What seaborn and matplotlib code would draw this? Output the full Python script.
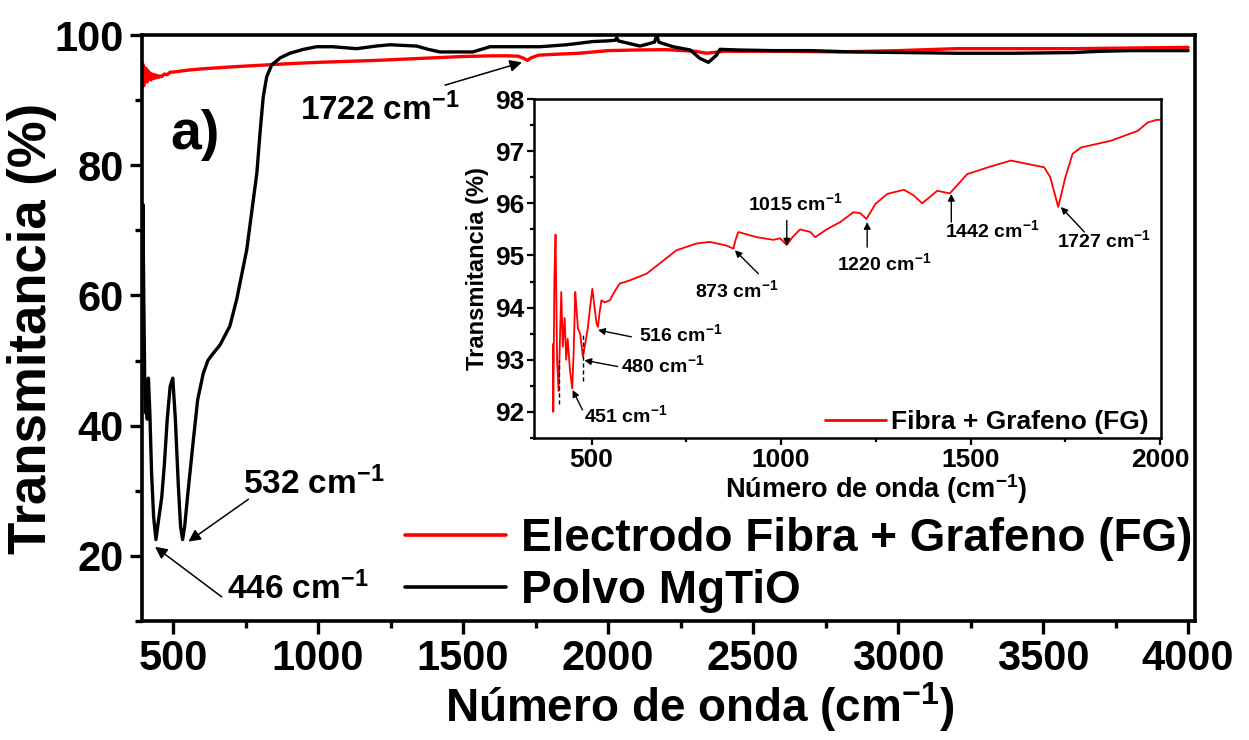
import numpy as np
import pandas as pd
import matplotlib
matplotlib.use("Agg")
import matplotlib.pyplot as plt
import seaborn as sns
from matplotlib.ticker import MultipleLocator

# ---------------- data ----------------
# Main panel: Electrodo Fibra + Grafeno (FG) (red)
red_x = [393, 396, 399, 402, 405, 408, 411, 414, 417, 420, 424, 428, 432, 436, 440,
         445, 450, 455, 460, 470, 480, 490, 500, 550, 600, 700, 800, 900, 1000, 1100,
         1200, 1300, 1400, 1500, 1600, 1650, 1690, 1710, 1722, 1735, 1760, 1800, 1900,
         2000, 2100, 2200, 2300, 2340, 2400, 2500, 2600, 2800, 3000, 3200, 3400, 3600,
         3800, 4000]
red_y = [92.5, 95.5, 92.2, 95.0, 93.0, 94.8, 92.8, 94.5, 93.2, 94.2, 93.1, 94.0, 93.3,
         93.9, 93.4, 93.8, 93.5, 93.7, 93.6, 94.0, 93.9, 94.3, 94.3, 94.6, 94.8, 95.1,
         95.35, 95.6, 95.8, 95.95, 96.1, 96.3, 96.5, 96.7, 96.8, 96.8, 96.75, 96.4, 96.1,
         96.5, 96.9, 97.0, 97.2, 97.6, 97.7, 97.75, 97.5, 97.2, 97.5, 97.5, 97.5, 97.4,
         97.6, 97.9, 97.9, 97.9, 98.0, 98.1]

# Main panel: Polvo MgTiO (black)
black_x = [393, 396, 399, 402, 405, 408, 411, 415, 420, 426, 433, 441, 450, 461, 470,
           480, 490, 499, 508, 518, 526, 533, 540, 552, 570, 585, 604, 620, 633, 662,
           696, 720, 754, 789, 800, 811, 823, 840, 870, 903, 950, 995, 1050, 1133, 1200,
           1248, 1340, 1380, 1420, 1534, 1593, 1765, 1857, 1949, 2000, 2025, 2030, 2035,
           2110, 2160, 2168, 2175, 2224, 2283, 2317, 2346, 2374, 2386, 2450, 2569, 2700,
           2845, 3030, 3200, 3400, 3600, 3700, 3800, 4000]
black_y = [62, 74, 60, 48, 42, 46, 41, 47.3, 42, 32.7, 26, 22.5, 25.5, 29, 34,
           41, 46, 47.3, 41, 31, 24.5, 22.5, 24.5, 30, 37.8, 44, 48, 50, 50.8, 52.4,
           55.3, 59.5, 67, 78.8, 85, 90.5, 93.6, 95.4, 96.5, 97.2, 97.8, 98.2, 98.2, 97.9, 98.3,
           98.5, 98.3, 97.8, 97.4, 97.4, 98.2, 98.2, 98.5, 99.0, 99.1, 99.2, 99.6, 99.1,
           98.3, 98.9, 100.0, 98.9, 98.2, 97.7, 96.4, 95.8, 96.9, 97.8, 97.7, 97.6, 97.6,
           97.4, 97.3, 97.2, 97.2, 97.3, 97.5, 97.6, 97.6]

# Inset: Fibra + Grafeno (FG), 400-2000 cm-1
ins_x = [398, 399, 402, 405, 409, 413, 417, 420, 424, 429, 433, 437, 443, 449, 453,
         457, 460, 464, 470, 477, 483, 490, 496, 502, 508, 513, 517, 521, 526, 535,
         548, 560, 574, 600, 645, 689, 724, 777, 812, 856, 874, 880, 887, 936, 980,
         997, 1015, 1030, 1050, 1077, 1090, 1120, 1156, 1191, 1209, 1225, 1249, 1280,
         1324, 1350, 1372, 1412, 1445, 1491, 1550, 1606, 1694, 1710, 1731, 1750, 1769,
         1791, 1870, 1941, 1967, 1990, 2002]
ins_y = [93.3, 92.0, 94.6, 95.4, 93.0, 92.4, 93.5, 94.3, 93.25, 93.8, 93.0, 93.4, 92.8,
         92.45, 93.2, 94.3, 94.0, 93.6, 93.5, 93.06, 93.3, 93.6, 94.0, 94.36, 94.0,
         93.7, 93.63, 93.9, 94.14, 94.1, 94.14, 94.3, 94.46, 94.52, 94.65, 94.9, 95.1,
         95.23, 95.26, 95.19, 95.13, 95.3, 95.45, 95.35, 95.3, 95.33, 95.2, 95.35, 95.5,
         95.45, 95.35, 95.5, 95.64, 95.83, 95.81, 95.7, 95.99, 96.18, 96.26, 96.15, 96.0,
         96.24, 96.19, 96.56, 96.7, 96.82, 96.69, 96.5, 95.93, 96.5, 96.95, 97.07, 97.2,
         97.39, 97.55, 97.6, 97.6]

main_labels = ["Electrodo Fibra + Grafeno (FG)", "Polvo MgTiO"]
inset_label = "Fibra + Grafeno (FG)"

main_xticks = [500, 1000, 1500, 2000, 2500, 3000, 3500, 4000]
main_yticks = [20, 40, 60, 80, 100]
inset_xticks = [500, 1000, 1500, 2000]
inset_yticks = [92, 93, 94, 95, 96, 97, 98]

# main annotations: (text, text_x, text_y, tail_x, tail_y, head_x, head_y)
main_ann = [
    ("1722 cm$^{-1}$", 1214, 88.5, 1438, 92.3, 1703, 95.8),
    ("532 cm$^{-1}$", 985, 31.0, 760, 28.7, 553, 22.2),
    ("446 cm$^{-1}$", 930, 15.0, 668, 13.7, 438, 21.4),
]
inset_ann = [
    ("451 cm$^{-1}$", 590, 91.94, 476, 92.04, 450, 92.42),
    ("480 cm$^{-1}$", 688, 92.9, 569, 92.87, 481, 92.99),
    ("516 cm$^{-1}$", 735, 93.49, 605, 93.44, 517, 93.57),
    ("873 cm$^{-1}$", 884, 94.33, 940, 94.65, 878, 95.1),
    ("1015 cm$^{-1}$", 1037, 96.0, 1015, 95.67, 1015, 95.19),
    ("1220 cm$^{-1}$", 1272, 94.85, 1227, 95.16, 1227, 95.64),
    ("1442 cm$^{-1}$", 1558, 95.48, 1449, 95.64, 1449, 96.18),
    ("1727 cm$^{-1}$", 1852, 95.29, 1800, 95.45, 1738, 95.93),
]
dash_x = [413, 478]
dash_lo = [92.15, 92.6]
dash_hi = [93.0, 93.5]

# ---------------- style ----------------
sns.set_theme(style="ticks")
plt.rcParams["font.family"] = ["Liberation Sans", "DejaVu Sans"]
plt.rcParams["font.weight"] = "bold"
plt.rcParams["axes.labelweight"] = "bold"
plt.rcParams["text.color"] = "black"
plt.rcParams["axes.labelcolor"] = "black"
plt.rcParams["xtick.color"] = "black"
plt.rcParams["ytick.color"] = "black"
plt.rcParams["legend.labelcolor"] = "black"
plt.rcParams["mathtext.fontset"] = "custom"
plt.rcParams["mathtext.rm"] = "Liberation Sans:bold"
plt.rcParams["mathtext.bf"] = "Liberation Sans:bold"
plt.rcParams["mathtext.it"] = "Liberation Sans:bold"
plt.rcParams["mathtext.sf"] = "Liberation Sans:bold"
plt.rcParams["mathtext.default"] = "bf"

fig = plt.figure(figsize=(12.49, 7.40), dpi=100)
ax = fig.add_axes([0.1137, 0.1608, 0.8431, 0.7919])

df_red = pd.DataFrame({"x": red_x, "y": red_y})
df_black = pd.DataFrame({"x": black_x, "y": black_y})
sns.lineplot(data=df_black, x="x", y="y", ax=ax, color="black", lw=2.4,
             sort=False, estimator=None, label=main_labels[1], zorder=3)
sns.lineplot(data=df_red, x="x", y="y", ax=ax, color="#ff0000", lw=2.4,
             sort=False, estimator=None, label=main_labels[0], zorder=2)

ax.set_xlim(393, 4024)
ax.set_ylim(10, 100)
ax.set_xticks(main_xticks)
ax.set_yticks(main_yticks)
ax.xaxis.set_minor_locator(MultipleLocator(250))
ax.yaxis.set_minor_locator(MultipleLocator(10))
ax.tick_params(axis="both", which="major", direction="out", length=9, width=2.4,
               labelsize=30, colors="black", pad=4)
ax.tick_params(axis="both", which="minor", direction="out", length=5, width=2.4)
for s in ax.spines.values():
    s.set_linewidth(2.6)
    s.set_color("black")
    s.set_visible(True)
ax.set_xlabel("Número de onda (cm$^{-1}$)", fontsize=33, labelpad=1)
ax.xaxis.label.set_x(0.53)
ax.set_ylabel("Transmitancia (%)", fontsize=38, labelpad=-2)

h, l = ax.get_legend_handles_labels()
order = [l.index(main_labels[0]), l.index(main_labels[1])]
leg = ax.legend([h[i] for i in order], [l[i] for i in order], loc="center left",
                bbox_to_anchor=(0.2498, 0.096), frameon=False, fontsize=33,
                handlelength=2.2, handletextpad=0.33, labelspacing=0.17,
                borderpad=0, borderaxespad=0)
for ln in leg.get_lines():
    ln.set_linewidth(2.6)

ax.text(576, 84.6, "a)", fontsize=40, fontweight="bold", ha="center", va="center")
for txt, tx, ty, x0, y0, x1, y1 in main_ann:
    ax.text(tx, ty, txt, fontsize=24, ha="center", va="center")
    ax.annotate("", xy=(x1, y1), xytext=(x0, y0),
                arrowprops=dict(arrowstyle="-|>", color="black", lw=1.1,
                                mutation_scale=18, shrinkA=0, shrinkB=0))

# ---------------- inset ----------------
axi = fig.add_axes([0.4275, 0.4081, 0.502, 0.4581])
df_ins = pd.DataFrame({"x": ins_x, "y": ins_y})
sns.lineplot(data=df_ins, x="x", y="y", ax=axi, color="#ff0000", lw=1.3,
             sort=False, estimator=None, label=inset_label)
for dx, lo, hi in zip(dash_x, dash_lo, dash_hi):
    axi.plot([dx, dx], [lo, hi], color="black", lw=1.0, ls=(0, (3, 2)))
axi.set_xlim(348, 2002)
axi.set_ylim(91.5, 98)
axi.set_xticks(inset_xticks)
axi.set_yticks(inset_yticks)
axi.xaxis.set_minor_locator(MultipleLocator(250))
axi.yaxis.set_minor_locator(MultipleLocator(0.5))
axi.tick_params(axis="both", which="major", direction="out", length=5, width=1.6,
                labelsize=19, colors="black", pad=2)
axi.tick_params(axis="both", which="minor", direction="out", length=3, width=1.6)
for s in axi.spines.values():
    s.set_linewidth(1.8)
    s.set_color("black")
    s.set_visible(True)
axi.set_xlabel("Número de onda (cm$^{-1}$)", fontsize=19.5, labelpad=0)
axi.xaxis.label.set_x(0.546)
axi.set_ylabel("Transmitancia (%)", fontsize=17, labelpad=4)
legi = axi.legend(loc="center left", bbox_to_anchor=(0.464, 0.047), frameon=False,
                  fontsize=19, handlelength=2.3, handletextpad=0.2,
                  borderpad=0, borderaxespad=0)
for ln in legi.get_lines():
    ln.set_linewidth(2.0)
for txt, tx, ty, x0, y0, x1, y1 in inset_ann:
    axi.text(tx, ty, txt, fontsize=14, ha="center", va="center")
    axi.annotate("", xy=(x1, y1), xytext=(x0, y0),
                 arrowprops=dict(arrowstyle="-|>", color="black", lw=1.0,
                                 mutation_scale=10, shrinkA=0, shrinkB=0))

fig.savefig("out.png", dpi=100, facecolor="white")
